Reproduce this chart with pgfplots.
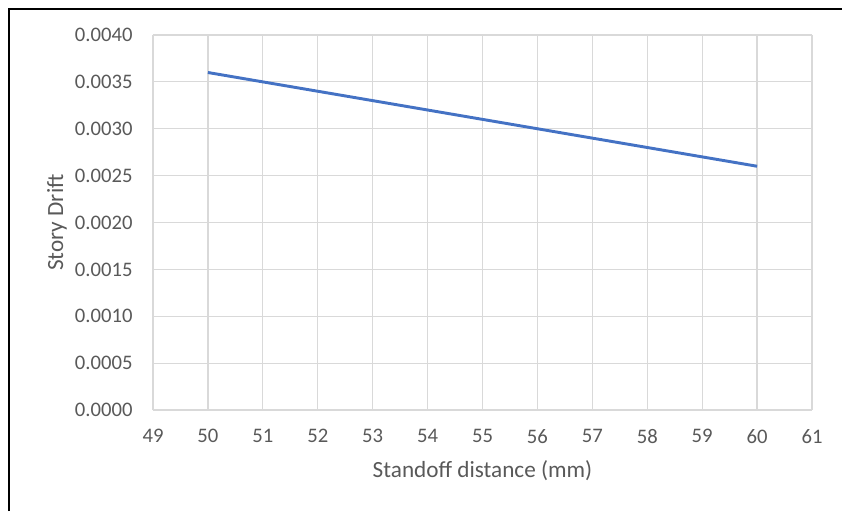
\documentclass[border=0pt]{standalone}
\usepackage{pgfplots}
\pgfplotsset{compat=1.18}
\usepackage{fontspec}
\setmainfont{Carlito}
\definecolor{txt}{HTML}{595959}
\definecolor{grd}{HTML}{D9D9D9}
\definecolor{ln}{HTML}{4472C4}
\begin{document}
\fontsize{15.5}{18}\selectfont
\begin{tikzpicture}
\useasboundingbox (-114.75pt,-75.75pt) rectangle (516.75pt,307.5pt);
\draw[black,line width=1.6pt] (-108pt,-75.75pt) -- (-108pt,300.75pt) -- (516.75pt,300.75pt);
\begin{axis}[
  at={(0,0)}, anchor=south west,
  scale only axis, width=494.25pt, height=281.25pt,
  xmin=49, xmax=61, ymin=0, ymax=0.004,
  xtick={49,...,61},
  ytick={0,0.0005,0.001,0.0015,0.002,0.0025,0.003,0.0035,0.004},
  scaled y ticks=false,
  yticklabel style={/pgf/number format/fixed,/pgf/number format/fixed zerofill,/pgf/number format/precision=4,/pgf/number format/assume math mode=true,xshift=-10pt},
  xticklabel style={/pgf/number format/assume math mode=true,yshift=-9pt},
  grid=major, major grid style={grd,line width=0.9pt},
  axis line style={grd,line width=0.9pt},
  major tick length=0pt,
  axis x line*=bottom, axis y line*=left,
  ticklabel style={font=\fontsize{15.5}{18}\selectfont, text=txt},
  xlabel={Standoff distance (mm)},
  ylabel={Story Drift},
  label style={font=\fontsize{17.4}{20}\selectfont, text=txt},
  xlabel style={at={(axis description cs:0.5,-0.1627)}, anchor=center},
  ylabel style={at={(axis description cs:-0.1457,0.5)}, anchor=center},
]
\addplot[ln, line width=2.2pt, mark=none] coordinates {
(50,0.0036) (51,0.0035) (52,0.0034) (53,0.0033) (54,0.0032) (55,0.0031)
(56,0.0030) (57,0.0029) (58,0.0028) (59,0.0027) (60,0.0026)};
\end{axis}
\end{tikzpicture}
\end{document}
